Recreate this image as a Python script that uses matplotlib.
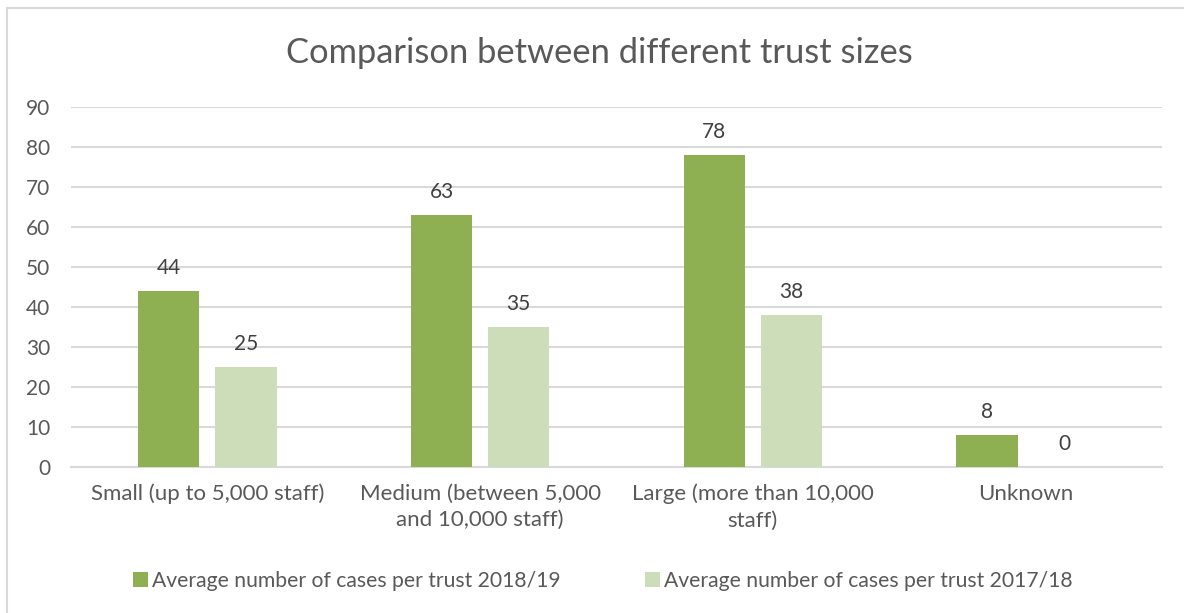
import matplotlib.pyplot as plt
import matplotlib.lines as mlines
import numpy as np

plt.rcParams['font.family'] = ['Lato', 'DejaVu Sans']

categories = ['Small (up to 5,000 staff)', 'Medium (between 5,000\nand 10,000 staff)',
              'Large (more than 10,000\nstaff)', 'Unknown']
cases_2018 = [44, 63, 78, 8]
cases_2017 = [25, 35, 38, 0]
series_names = ['Average number of cases per trust 2018/19',
                'Average number of cases per trust 2017/18']
y_ticks = [0, 10, 20, 30, 40, 50, 60, 70, 80, 90]

GREEN = '#8FB052'
LIGHT = '#CEDDB9'
TEXT = '#595959'
GRID = '#D9D9D9'

W, H = 1184, 613
fig = plt.figure(figsize=(W / 100, H / 100), dpi=100)
fig.patch.set_facecolor('white')

# chart frame (left and top edges)
fig.add_artist(mlines.Line2D([7 / W, 7 / W], [0, 1 - 8 / H], color=GRID, lw=1.5))
fig.add_artist(mlines.Line2D([7 / W, 1], [1 - 8 / H, 1 - 8 / H], color=GRID, lw=1.5))

# plot area in pixels: x 71..1162, y 107..467
ax = fig.add_axes([71 / W, 1 - 467 / H, (1162 - 71) / W, (467 - 107) / H])
x = np.arange(len(categories))
bw = 0.224
gap = 0.059
b1 = ax.bar(x - (bw + gap) / 2, cases_2018, bw, color=GREEN, label=series_names[0], zorder=3)
b2 = ax.bar(x + (bw + gap) / 2, cases_2017, bw, color=LIGHT, label=series_names[1], zorder=3)

for bars, vals in ((b1, cases_2018), (b2, cases_2017)):
    for rect, v in zip(bars, vals):
        ax.annotate(f'{v}', (rect.get_x() + rect.get_width() / 2, v),
                    xytext=(0, 9), textcoords='offset points',
                    ha='center', va='bottom', fontsize=15, color='#404040')

ax.set_xlim(-0.5, len(categories) - 0.5)
ax.set_ylim(0, 90)
ax.set_yticks(y_ticks)
ax.set_xticks(x)
ax.set_xticklabels(categories, fontsize=16, color=TEXT, linespacing=1.4)
ax.tick_params(axis='y', labelsize=15, labelcolor=TEXT, length=0, pad=15)
ax.tick_params(axis='x', length=0, pad=12)
ax.grid(axis='y', color=GRID, lw=1.5, zorder=0)
for s in ('left', 'right', 'top'):
    ax.spines[s].set_visible(False)
ax.spines['bottom'].set_color(GRID)
ax.spines['bottom'].set_linewidth(1.5)

fig.text(599 / W, 1 - 53 / H, 'Comparison between different trust sizes',
         ha='center', va='center', fontsize=24.8, color=TEXT)

fig.legend(handles=[b1, b2], loc='center', bbox_to_anchor=(603 / W, 1 - 581 / H),
           ncol=2, frameon=False, fontsize=15.2, labelcolor=TEXT,
           handlelength=0.7, handleheight=0.7, handletextpad=0.2, columnspacing=4.0)

fig.savefig('out.png', dpi=100)
